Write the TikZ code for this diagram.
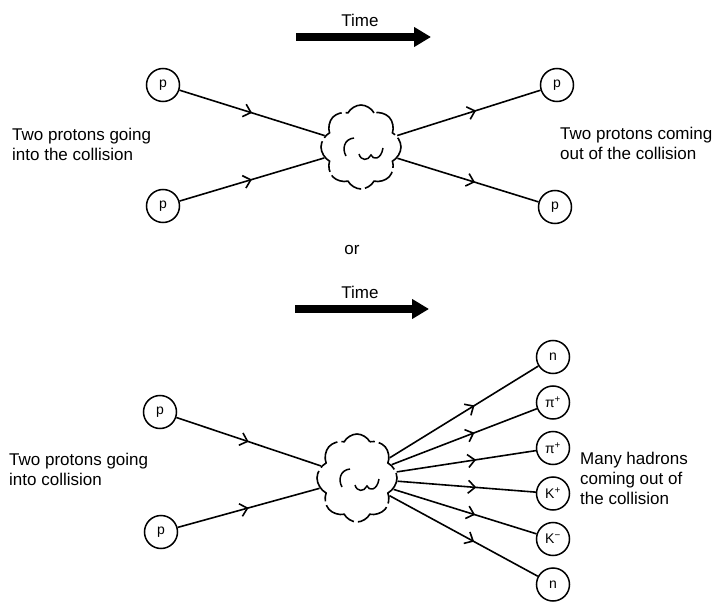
\documentclass[tikz,border=0pt]{standalone}
\usepackage{fontspec}
\setmainfont{Liberation Sans}
\usetikzlibrary{arrows.meta,shapes.symbols,decorations.markings}

\tikzset{
  particle/.style={draw, circle, line width=1.5pt, minimum size=33pt, inner sep=0pt,
    font=\fontsize{14}{14}\selectfont},
  blob/.style={draw, cloud, cloud puffs=8, cloud puff arc=125, aspect=1, line width=1.6pt,
    dash pattern=on 34pt off 4pt, inner sep=0pt},
  track/.style={line width=1.6pt, postaction={decorate},
    decoration={markings, mark=at position #1 with {\arrow{Straight Barb[length=7pt,width=13pt]}}}},
  track/.default=0.5,
  timearrow/.style={line width=7.5pt, -{Triangle[length=17pt,width=19pt]}},
  notes/.style={align=left, anchor=west, inner sep=0pt},
}

\begin{document}
\begin{tikzpicture}[x=1pt,y=-1pt]
    \useasboundingbox (0,0) rectangle (716,602);
    \begin{scope}[font=\fontsize{17}{20}\selectfont]

    % upper picture
    \coordinate (ta1) at (296,37);
    \coordinate (tb1) at (431,37);
    \draw [timearrow] (ta1) -- (tb1);
    \node (time1) at (360,20) {Time};

    \node [blob, minimum width=80pt, minimum height=84pt] (c1) at (361,147) {};
    \node [particle] (p1) at (163,85)  {p};
    \node [particle] (p2) at (163,206) {p};
    \node [particle] (p3) at (557,85)  {p};
    \node [particle] (p4) at (555,207) {p};

    \draw [track] (p1) -- (c1);
    \draw [track] (p2) -- (c1);
    \draw [track=0.55] (c1) -- (p3);
    \draw [track=0.55] (c1) -- (p4);

    \node [notes] (in1)  at (12,144)  {Two protons going\\into the collision};
    \node [notes] (out1) at (560,143) {Two protons coming\\out of the collision};

    \node (or) at (352,250) {or};

    % lower picture
    \coordinate (ta2) at (295,309);
    \coordinate (tb2) at (429,309);
    \draw [timearrow] (ta2) -- (tb2);
    \node (time2) at (360,292) {Time};

    \node [blob, minimum width=80pt, minimum height=88pt] (c2) at (357,478) {};
    \node [particle] (p5) at (160,412) {p};
    \node [particle] (p6) at (161,532) {p};

    \draw [track] (p5) -- (c2);
    \draw [track] (p6) -- (c2);

    \foreach \lab [count=\i] in {n,π\textsuperscript{+},π\textsuperscript{+},K\textsuperscript{+},K\textsuperscript{−},n}{%
        \node [particle] (h\i) at (553,{311.5+45.5*\i}) {\lab};
        \draw [track=0.57] (c2) -- (h\i);}

    \node [notes] (in2)  at (9,469)   {Two protons going\\into collision};
    \node [notes] (out2) at (580,478) {Many hadrons\\coming out of\\the collision};

    % swirls inside the clouds
    \foreach \c in {c1,c2}{%
        \draw [line width=1.5pt, shift={(\c)}] (-7,-9) .. controls (-17,-8) and (-19,2) .. (-15,9);
        \draw [line width=1.5pt, shift={(\c)}] (-2,7) .. controls (0,14) and (7,14) .. (10,8)
            .. controls (12,13) and (20,13) .. (22,1);}
    \end{scope}
\end{tikzpicture}
\end{document}
